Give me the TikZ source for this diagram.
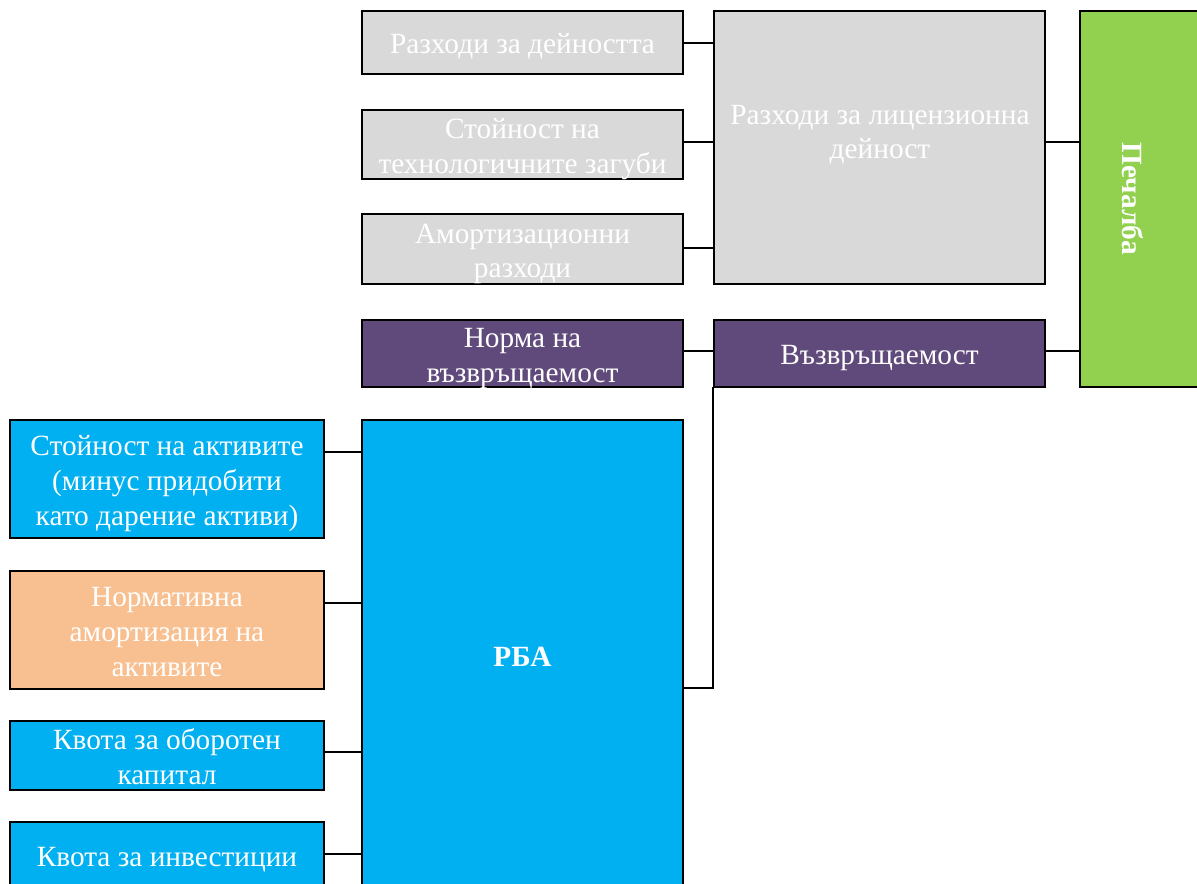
\documentclass[tikz,border=0pt]{standalone}
\usepackage{fontspec}
\setmainfont{Liberation Serif}
\definecolor{cgray}{HTML}{D9D9D9}
\definecolor{cpurple}{HTML}{604A7B}
\definecolor{cblue}{HTML}{00B0F0}
\definecolor{corange}{HTML}{F8C090}
\definecolor{cgreen}{HTML}{92D050}
\newcommand\boxtxt[1]{\raisebox{0pt}[\height][\dimexpr\depth-6.8pt\relax]{\begin{tabular}{@{}c@{}}#1\end{tabular}}}
\begin{document}
\begin{tikzpicture}[x=0.75pt,y=-0.75pt,
  box/.style={draw=black, line width=1.6pt, inner sep=0pt,
    text=white, font=\fontsize{22}{26}\selectfont},
  narrow/.style={minimum width=235.5pt},
  mid/.style={minimum width=240.75pt},
  wide/.style={minimum width=248.25pt},
  lbl/.style={text=white, inner sep=0pt, font=\fontsize{22}{26}\selectfont},
  conn/.style={line width=1.6pt, line cap=rect}]
\clip (0,0) rectangle (1197,884);
\fill[white] (0,0) rectangle (1197,884);
% gray branch
\node[box, mid, fill=cgray, minimum height=47.25pt] (g1) at (522.5,42.5) {\boxtxt{Разходи за дейността}};
\node[box, mid, fill=cgray, minimum height=51.75pt] (g2) at (522.5,144.5) {\boxtxt{Стойност на\\технологичните загуби}};
\node[box, mid, fill=cgray, minimum height=52.5pt] (g3) at (522.5,249) {\boxtxt{Амортизационни\\разходи}};
\node[box, wide, fill=cgray, minimum height=204.75pt] (big) at (879.5,147.5) {};
\node[lbl] (bigt) at (880,130) {\boxtxt{Разходи за лицензионна\\дейност}};
% green
\node[box, fill=cgreen, minimum width=97.5pt, minimum height=282pt] (green) at (1145,199) {};
\node[lbl, rotate=-90, font=\fontsize{22}{26}\selectfont\bfseries] (greent) at (1133,199) {Печалба};
% purple
\node[box, mid, fill=cpurple, minimum height=50.25pt] (norma) at (522.5,353.5) {\boxtxt{Норма на\\възвръщаемост}};
\node[box, wide, fill=cpurple, minimum height=50.25pt] (vaz) at (879.5,353.5) {\boxtxt{Възвръщаемост}};
% RBA
\node[box, mid, fill=cblue, minimum height=352.5pt, font=\fontsize{22}{26}\selectfont\bfseries] (rba) at (522.5,655) {\boxtxt{РБА}};
\node[box, narrow, fill=cblue, minimum height=88.5pt] (b1) at (167,479) {\boxtxt{Стойност на активите\\(минус придобити\\като дарение активи)}};
\node[box, narrow, fill=corange, minimum height=88.5pt] (b2) at (167,630) {\boxtxt{Нормативна\\амортизация на\\активите}};
\node[box, narrow, fill=cblue, minimum height=51.75pt] (b3) at (167,755.5) {\boxtxt{Квота за оборотен\\капитал}};
\node[box, narrow, fill=cblue, minimum height=49.5pt] (b4) at (167,855) {\boxtxt{Квота за инвестиции}};
% connectors
\draw[conn] (g1.east |- 0,43) -- (big.west |- 0,43);
\draw[conn] (g2.east |- 0,142) -- (big.west |- 0,142);
\draw[conn] (g3.east |- 0,248) -- (big.west |- 0,248);
\draw[conn] (big.east |- 0,142) -- (green.west |- 0,142);
\draw[conn] (norma.east |- 0,351) -- (vaz.west |- 0,351);
\draw[conn] (vaz.east |- 0,351) -- (green.west |- 0,351);
\draw[conn] (rba.east |- 0,688) -| (vaz.south west);
\draw[conn] (b1.east |- 0,452) -- (rba.west |- 0,452);
\draw[conn] (b2.east |- 0,603) -- (rba.west |- 0,603);
\draw[conn] (b3.east |- 0,752) -- (rba.west |- 0,752);
\draw[conn] (b4.east |- 0,854) -- (rba.west |- 0,854);
\end{tikzpicture}
\end{document}
